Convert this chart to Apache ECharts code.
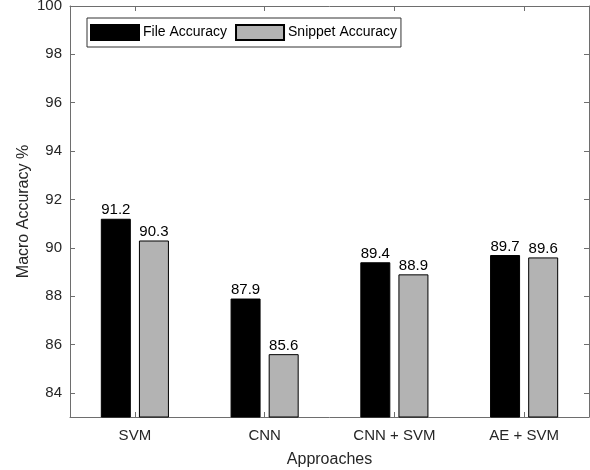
<!DOCTYPE html>
<html>
<head>
<meta charset="utf-8">
<script src="https://cdn.jsdelivr.net/npm/echarts@6/dist/echarts.min.js"></script>
<style>html,body{margin:0;padding:0;background:#fff}#c{width:590px;height:470px}</style>
</head>
<body>
<div id="c"></div>
<script>
const categories = ['SVM', 'CNN', 'CNN + SVM', 'AE + SVM'];
const fileAccuracy = [91.2, 87.9, 89.4, 89.7];
const snippetAccuracy = [90.3, 85.6, 88.9, 89.6];
const seriesNames = ['File Accuracy', 'Snippet Accuracy'];
const yTicks = [84, 86, 88, 90, 92, 94, 96, 98, 100];

const FONT = '"Liberation Sans", Arial, sans-serif';
const TXT = '#262626';
const AX = '#6e6e6e';
const chart = echarts.init(document.getElementById('c'), null, {renderer: 'canvas'});

const labelCfg = {show: true, position: 'top', distance: 1, color: '#000', fontSize: 15, fontFamily: FONT,
  formatter: p => p.value.toFixed(1)};

chart.setOption({
  animation: false,
  backgroundColor: '#fff',
  grid: {left: 70, right: 1, top: 6, bottom: 53, containLabel: false, outerBoundsMode: 'none'},
  legend: {
    left: 87, top: 18, orient: 'horizontal',
    data: seriesNames,
    itemWidth: 48, itemHeight: 15, itemGap: 8,
    padding: [6, 4, 6, 3],
    borderColor: '#333', borderWidth: 1, backgroundColor: '#fff',
    textStyle: {fontSize: 14, fontFamily: FONT, color: '#000', padding: [0, 0, 0, -1]},
    icon: 'rect'
  },
  xAxis: [{
    type: 'category', data: categories, position: 'bottom',
    name: 'Approaches', nameLocation: 'middle', nameGap: 35, nameMoveOverlap: false,
    nameTextStyle: {fontSize: 16, fontFamily: FONT, color: TXT},
    axisLine: {show: true, lineStyle: {color: AX, width: 1}},
    axisTick: {show: true, inside: true, length: 5, alignWithLabel: true, lineStyle: {color: AX}},
    axisLabel: {fontSize: 15, fontFamily: FONT, color: TXT, margin: 11},
    splitLine: {show: false}
  }, {
    type: 'category', data: categories, position: 'top',
    axisLine: {show: true, lineStyle: {color: AX, width: 1}},
    axisTick: {show: true, inside: true, length: 5, alignWithLabel: true, lineStyle: {color: AX}},
    axisLabel: {show: false}, splitLine: {show: false}
  }],
  yAxis: [{
    type: 'value', min: 83, max: 100, position: 'left',
    name: 'Macro Accuracy %', nameLocation: 'middle', nameGap: 38, nameMoveOverlap: false,
    nameTextStyle: {fontSize: 16, fontFamily: FONT, color: TXT},
    axisLine: {show: true, lineStyle: {color: AX, width: 1}},
    axisTick: {show: true, inside: true, length: 5, lineStyle: {color: AX}, customValues: yTicks},
    axisLabel: {fontSize: 15, fontFamily: FONT, color: TXT, margin: 8, customValues: yTicks},
    splitLine: {show: false}
  }, {
    type: 'value', min: 83, max: 100, position: 'right',
    axisLine: {show: true, lineStyle: {color: AX, width: 1}},
    axisTick: {show: true, inside: true, length: 5, lineStyle: {color: AX}, customValues: yTicks},
    axisLabel: {show: false}, splitLine: {show: false}
  }],
  series: [{
    name: seriesNames[0], type: 'bar', data: fileAccuracy,
    barWidth: 30, barGap: '27%',
    itemStyle: {color: '#000', borderColor: '#000', borderWidth: 1},
    label: labelCfg
  }, {
    name: seriesNames[1], type: 'bar', data: snippetAccuracy,
    barWidth: 30, barGap: '27%',
    itemStyle: {color: '#b3b3b3', borderColor: '#000', borderWidth: 1},
    label: labelCfg
  }]
});
</script>
</body>
</html>
